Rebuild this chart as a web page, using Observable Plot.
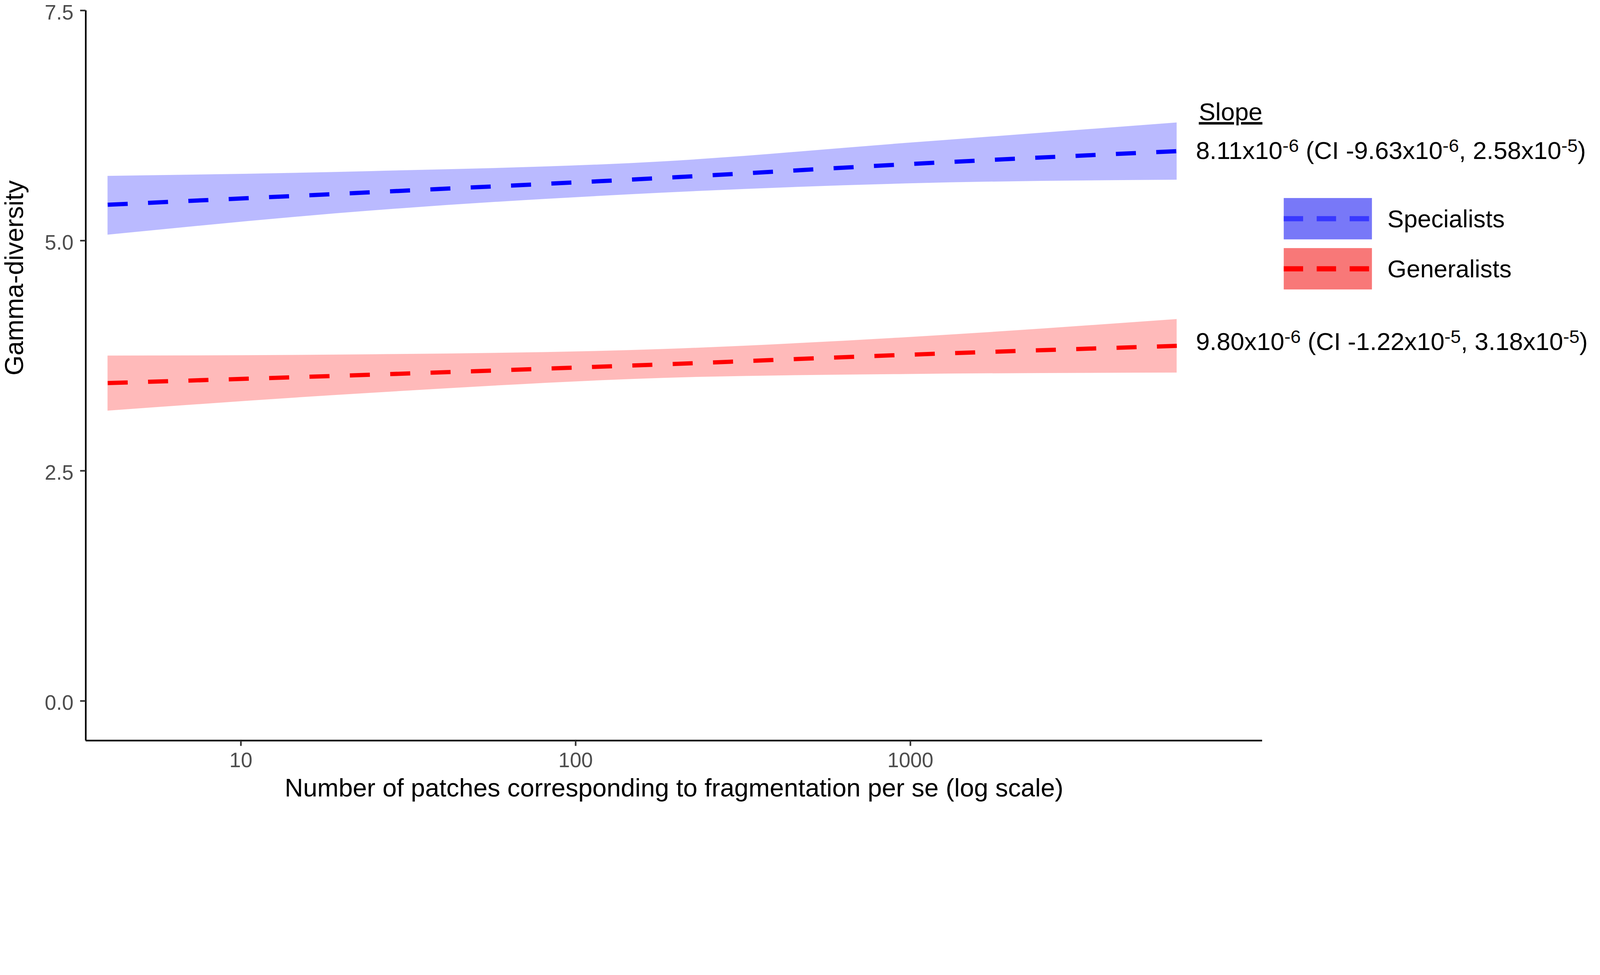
<!DOCTYPE html>
<html>
<head>
<meta charset="utf-8">
<script src="https://cdn.jsdelivr.net/npm/d3@7"></script>
<script src="https://cdn.jsdelivr.net/npm/@observablehq/plot@0.6"></script>
<style>
  html, body { margin: 0; padding: 0; background: #ffffff; overflow: hidden; }
  #chart { width: 100vw; }
  #chart svg { width: 100%; height: auto; max-width: none; display: block; }
</style>
</head>
<body>
<div id="chart"></div>
<script>
// ---- data ----
const xPatches   = [4, 24.6, 181, 970, 6250];
const specFit    = [5.390, 5.526, 5.681, 5.830, 5.972];
const specLower  = [5.063, 5.326, 5.519, 5.620, 5.660];
const specUpper  = [5.702, 5.754, 5.859, 6.060, 6.282];
const genFit     = [3.453, 3.544, 3.656, 3.760, 3.857];
const genLower   = [3.152, 3.346, 3.507, 3.550, 3.565];
const genUpper   = [3.750, 3.764, 3.821, 3.950, 4.147];

const groups      = ["Specialists", "Generalists"];
const lineColors  = ["#0000ff", "#ff0000"];
const keyLine     = ["#3838ff", "#ff0000"];
const bandColors  = ["#0000ff", "#ff0000"];
const keyFill     = ["#7878f8", "#f87878"];
const slopeLabels = ["8.11x10^-6 (CI -9.63x10^-6, 2.58x10^-5)",
                     "9.80x10^-6 (CI -1.22x10^-5, 3.18x10^-5)"];
const slopeLabelY = [5.972, 3.90];

const xDomain = [3.44, 11250];
const yDomain = [-0.43, 7.5];
const xTicks  = [10, 100, 1000];
const yTicks  = [0, 2.5, 5, 7.5];
const xTitle  = "Number of patches corresponding to fragmentation per se (log scale)";
const yTitle  = "Gamma-diversity";
const legendTitle = "Slope";

// ---- build tables ----
const series = [
  {fit: specFit, lo: specLower, hi: specUpper},
  {fit: genFit,  lo: genLower,  hi: genUpper}
];
const rows = [];
series.forEach((s, g) => xPatches.forEach((x, i) =>
  rows.push({group: groups[g], x, fit: s.fit[i], lo: s.lo[i], hi: s.hi[i]})));
const annos = groups.map((g, i) => ({group: g, x: xPatches[xPatches.length - 1], y: slopeLabelY[i], label: slopeLabels[i]}));

const W = 4953, H = 2496;
const FONT = "'Liberation Sans', Arial, Helvetica, sans-serif";

const marks = [];
groups.forEach((g, i) => {
  const d = rows.filter(r => r.group === g);
  marks.push(Plot.areaY(d, {x: "x", y1: "lo", y2: "hi", fill: bandColors[i], fillOpacity: 0.27, curve: "monotone-x"}));
});
groups.forEach((g, i) => {
  const d = rows.filter(r => r.group === g);
  marks.push(Plot.line(d, {x: "x", y: "fit", stroke: lineColors[i], strokeWidth: 13, strokeDasharray: "62,63", curve: "monotone-x", strokeLinecap: "butt"}));
});
marks.push(
  Plot.ruleX([xDomain[0]], {y1: yDomain[0], y2: yDomain[1], stroke: "#000", strokeWidth: 5}),
  Plot.ruleY([yDomain[0]], {x1: xDomain[0], x2: xDomain[1], stroke: "#000", strokeWidth: 5}),
  Plot.axisX({ticks: xTicks, tickFormat: d => String(d), tickSize: 17, tickPadding: 20, fontSize: 64,
              stroke: "#333333", strokeWidth: 5, fill: "#4d4d4d", label: null}),
  Plot.axisY({ticks: yTicks, tickFormat: d => d.toFixed(1), tickSize: 17, tickPadding: 21, fontSize: 64,
              stroke: "#333333", strokeWidth: 5, fill: "#4d4d4d", label: null}),
  Plot.text([xTitle], {frameAnchor: "bottom", dy: 173, lineAnchor: "bottom", fontSize: 79, fill: "#000"}),
  Plot.text([yTitle], {frameAnchor: "left", dx: -194, rotate: -90, lineAnchor: "bottom", fontSize: 80, fill: "#000"}),
  Plot.text(annos, {x: "x", y: "y", text: "label", dx: 59, textAnchor: "start", lineAnchor: "middle", fontSize: 77, fill: "#000"})
);

const chart = Plot.plot({
  width: W, height: H,
  marginLeft: 265, marginRight: 1046, marginTop: 32, marginBottom: 204,
  style: {fontFamily: FONT, background: "#ffffff", color: "#000"},
  x: {type: "log", domain: xDomain},
  y: {domain: yDomain},
  marks
});
document.getElementById("chart").appendChild(chart);

// keep the top y tick label fully inside the picture (append a small shift to the existing transform)
d3.select(chart).selectAll("g[aria-label='y-axis tick label']").each(function () {
  const old = this.getAttribute("transform") || "";
  this.setAttribute("transform", (old + " translate(0,7)").trim());
});

// ---- superscripts ----
const svgns = "http://www.w3.org/2000/svg";
d3.select(chart).selectAll("text").each(function () {
  const s = this.textContent;
  if (!s.includes("^")) return;
  const parts = s.split(/\^(-?\d+)/);
  while (this.firstChild) this.removeChild(this.firstChild);
  parts.forEach((p, i) => {
    const t = document.createElementNS(svgns, "tspan");
    if (i % 2 === 1) { t.setAttribute("font-size", "57"); t.setAttribute("dy", "-22"); }
    else if (i > 0) { t.setAttribute("dy", "22"); }
    t.textContent = p;
    this.appendChild(t);
  });
});

// ---- slope header & legend ----
const svg = d3.select(chart);
svg.append("text").attr("x", 3711).attr("y", 373).attr("font-size", 77)
   .attr("font-family", FONT).attr("fill", "#000").attr("text-anchor", "start")
   .style("text-decoration", "underline").text(legendTitle);

const leg = svg.append("g").attr("font-family", FONT).attr("text-anchor", "start");
const keyX = 3974, keyW = 273, keyH = 128, keyY = [613, 768];
groups.forEach((g, i) => {
  leg.append("rect").attr("x", keyX).attr("y", keyY[i]).attr("width", keyW).attr("height", keyH).attr("fill", keyFill[i]);
  leg.append("line").attr("x1", keyX).attr("x2", keyX + keyW - 8)
     .attr("y1", keyY[i] + keyH / 2).attr("y2", keyY[i] + keyH / 2)
     .attr("stroke", keyLine[i]).attr("stroke-width", 16).attr("stroke-dasharray", "60,42");
  leg.append("text").attr("x", 4295).attr("y", keyY[i] + keyH / 2 + 27)
     .attr("font-size", 76).attr("fill", "#000").attr("text-anchor", "start").text(g);
});
</script>
</body>
</html>
